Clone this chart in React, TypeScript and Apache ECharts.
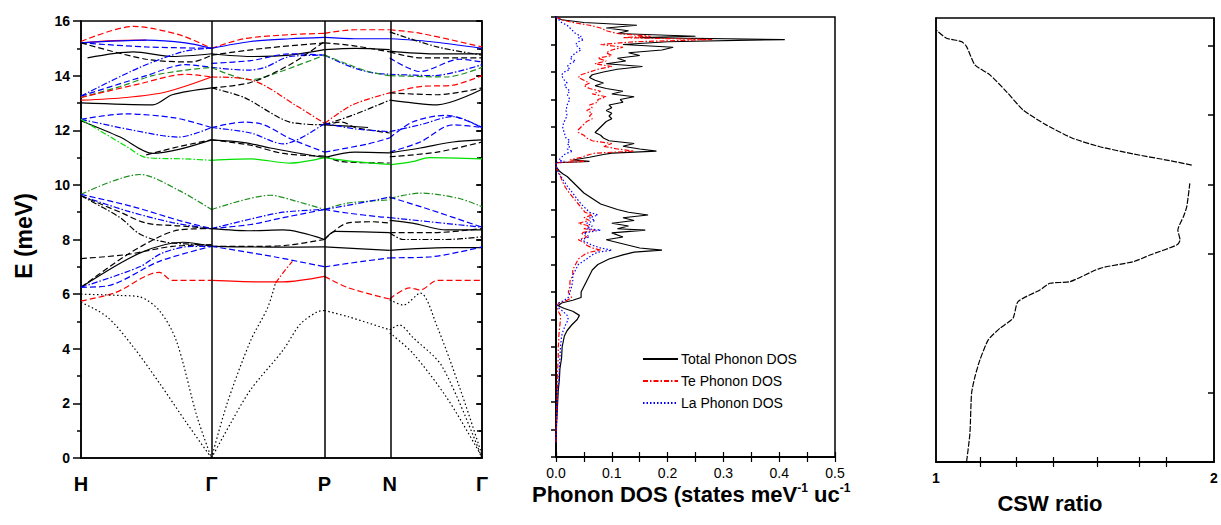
import React, { useEffect, useRef } from "react";
import * as echarts from "echarts";

// ---------- Left panel: dispersion along H-Γ-P-N-Γ ----------
const kPoints = [0, 1, 1.866, 2.366, 3.073];
const kLabels = ["H", "Γ", "P", "N", "Γ"];
const energyTicks = [0, 2, 4, 6, 8, 10, 12, 14, 16];

// [k, E(meV)] for bands on H→Γ
const bandsHG = [
  [[0, 15.25], [0.4, 15.8], [0.75, 15.5], [1, 15.0]],
  [[0, 15.2], [0.25, 15.28], [0.5, 15.3]],
  [[0, 15.2], [0.5, 15.3], [0.8, 15.2], [1, 15.0]],
  [[0, 15.2], [0.5, 15.05], [1, 15.0]],
  [[0, 15.2], [0.5, 14.6], [0.85, 14.5], [1, 14.75]],
  [[0.05, 14.65], [0.4, 14.87], [0.7, 14.7], [1, 14.8]],
  [[0, 13.25], [0.45, 14.3], [0.8, 14.9], [1, 15.0]],
  [[0, 13.25], [0.5, 14.0], [0.8, 14.4], [1, 14.3]],
  [[0, 13.2], [0.3, 13.6], [0.55, 14.0], [0.8, 14.2], [1, 14.3]],
  [[0, 13.2], [0.45, 13.7], [0.8, 14.05], [1, 13.95]],
  [[0, 13.1], [0.35, 13.2], [0.65, 13.4], [1, 13.95]],
  [[0, 13.0], [0.55, 12.93], [0.7, 13.3], [1, 13.55]],
  [[0, 12.4], [0.34, 12.6], [0.72, 12.45], [1, 12.1]],
  [[0, 12.4], [0.4, 12.0], [0.75, 11.75], [1, 12.1]],
  [[0, 12.35], [0.3, 11.75], [0.55, 11.15], [0.75, 11.3], [1, 11.65]],
  [[0.5, 11.1], [0.75, 11.4], [1, 11.65]],
  [[0, 12.4], [0.35, 11.4], [0.5, 11.0], [0.8, 10.95], [1, 10.9]],
  [[0, 9.65], [0.45, 10.38], [0.75, 9.8], [1, 9.1]],
  [[0, 9.65], [0.4, 9.2], [0.75, 8.7], [1, 8.4]],
  [[0, 9.6], [0.35, 9.05], [0.7, 8.62], [1, 8.4]],
  [[0, 9.6], [0.3, 9.0], [0.5, 8.6], [0.75, 8.5], [1, 8.4]],
  [[0, 9.6], [0.3, 8.8], [0.45, 8.2], [0.65, 7.9], [1, 7.8]],
  [[0, 7.3], [0.35, 7.45], [0.7, 7.75], [1, 7.8]],
  [[0, 6.25], [0.45, 7.5], [0.78, 7.9], [1, 7.75]],
  [[0, 6.25], [0.34, 7.4], [0.6, 8.1], [0.75, 8.35], [1, 8.4]],
  [[0, 6.25], [0.2, 6.3], [0.6, 7.2], [1, 7.75]],
  [[0, 6.25], [0.45, 7.0], [0.62, 7.5], [0.85, 7.75], [1, 7.75]],
  [[0, 5.75], [0.26, 6.05], [0.6, 6.8], [0.7, 6.5], [1, 6.5]],
  [[0, 6.0], [0.3, 5.95], [0.45, 5.9], [0.6, 5.4], [0.73, 4.3], [0.89, 1.5], [1, 0]],
  [[0, 5.7], [0.2, 5.17], [0.4, 4.07], [0.6, 2.75], [0.81, 1.28], [1, 0]],
];
const kindsHG = ["rd", "rs", "bs", "bd", "kd", "ks", "bh", "bd", "dd", "rd", "rs", "ks", "bd", "bh", "ks", "kd", "gh", "dh", "bd", "bh", "kd", "kh", "kd", "ks", "kd", "bd", "bh", "rd", "ko", "ko"];

// Γ→P
const bandsGP = [
  [[1, 15.0], [1.25, 15.35], [1.6, 15.5], [1.866, 15.55]],
  [[1, 15.0], [1.3, 15.25], [1.6, 15.35], [1.866, 15.4]],
  [[1, 14.75], [1.4, 15.0], [1.866, 15.2]],
  [[1, 14.8], [1.3, 14.7], [1.6, 14.75], [1.866, 14.95]],
  [[1, 14.3], [1.28, 14.2], [1.41, 14.3], [1.6, 14.7], [1.866, 14.75]],
  [[1, 14.45], [1.3, 14.55], [1.6, 14.8], [1.866, 14.75]],
  [[1, 14.3], [1.3, 13.85], [1.5, 14.1], [1.866, 14.75]],
  [[1, 13.95], [1.3, 13.85], [1.65, 12.9], [1.866, 12.25]],
  [[1, 13.55], [1.25, 13.2], [1.6, 12.3], [1.866, 12.2]],
  [[1, 13.55], [1.3, 13.75], [1.6, 14.4], [1.866, 15.25]],
  [[1, 12.1], [1.25, 12.3], [1.4, 12.2], [1.6, 11.7], [1.866, 11.2]],
  [[1, 12.1], [1.3, 11.9], [1.55, 11.5], [1.866, 12.25]],
  [[1, 11.65], [1.25, 11.55], [1.45, 11.35], [1.866, 11.0]],
  [[1, 11.65], [1.3, 11.45], [1.55, 11.15], [1.866, 11.05]],
  [[1, 10.9], [1.3, 10.95], [1.6, 10.8], [1.866, 11.0]],
  [[1, 9.1], [1.25, 9.45], [1.45, 9.62], [1.65, 9.4], [1.866, 9.1]],
  [[1, 8.4], [1.3, 8.55], [1.55, 8.8], [1.866, 9.1]],
  [[1, 8.4], [1.3, 8.75], [1.55, 9.0], [1.866, 9.1]],
  [[1, 8.4], [1.3, 8.32], [1.55, 8.35], [1.866, 8.0]],
  [[1, 7.75], [1.4, 7.75], [1.6, 7.8], [1.866, 8.0]],
  [[1, 7.75], [1.5, 7.72], [1.866, 7.73]],
  [[1, 7.75], [1.5, 7.35], [1.866, 7.0]],
  [[1, 6.5], [1.35, 6.45], [1.55, 6.45], [1.866, 6.65]],
  [[1.49, 6.4], [1.56, 6.85], [1.62, 7.2]],
  [[1, 0], [1.12, 2.0], [1.3, 4.3], [1.43, 5.5], [1.49, 6.4]],
  [[1, 0], [1.15, 1.3], [1.3, 2.5], [1.55, 3.96], [1.68, 4.9], [1.81, 5.35], [1.866, 5.4]],
];
const kindsGP = ["rd", "bs", "kd", "ks", "bh", "bd", "dd", "rh", "kh", "kd", "bd", "bh", "ks", "kd", "gs", "dh", "bd", "bh", "ks", "kd", "ks", "bd", "rs", "rh", "ko", "ko"];

// P→N
const bandsPN = [
  [[1.866, 15.55], [2.1, 15.68], [2.366, 15.68]],
  [[1.866, 15.4], [2.1, 15.35], [2.366, 15.35]],
  [[1.866, 15.2], [2.08, 15.1], [2.366, 14.87]],
  [[1.866, 14.95], [2.1, 15.0], [2.366, 14.95]],
  [[1.866, 14.75], [2.08, 14.3], [2.24, 14.1], [2.366, 14.05]],
  [[1.866, 14.75], [2.0, 14.5], [2.2, 14.15], [2.366, 14.0]],
  [[1.866, 12.25], [2.08, 12.93], [2.366, 13.37]],
  [[1.866, 12.2], [2.08, 12.55], [2.366, 13.1]],
  [[1.866, 12.2], [2.05, 12.15], [2.2, 12.1]],
  [[1.866, 12.2], [2.0, 12.3], [2.1, 12.1], [2.366, 11.9]],
  [[1.866, 11.2], [2.2, 11.5], [2.366, 11.72]],
  [[1.866, 12.25], [2.1, 12.05], [2.366, 11.95]],
  [[1.866, 11.0], [2.1, 11.2], [2.366, 11.17]],
  [[1.866, 11.05], [2.0, 10.85], [2.366, 10.8]],
  [[1.866, 11.0], [2.1, 10.85], [2.366, 10.75]],
  [[1.866, 9.1], [2.04, 9.33], [2.366, 9.45]],
  [[1.866, 9.1], [2.1, 9.3], [2.366, 9.55]],
  [[1.866, 9.1], [2.04, 8.97], [2.29, 8.83], [2.366, 8.8]],
  [[1.866, 8.0], [2.04, 8.6], [2.24, 8.65], [2.366, 8.6]],
  [[1.866, 8.0], [1.95, 8.3], [2.366, 8.25]],
  [[1.866, 7.73], [2.366, 7.6]],
  [[1.866, 7.0], [2.16, 7.2], [2.366, 7.33]],
  [[1.866, 6.65], [2.05, 6.23], [2.366, 5.82]],
  [[1.866, 5.4], [2.05, 5.17], [2.366, 4.69]],
];
const kindsPN = ["rd", "bs", "kd", "ks", "bh", "dd", "rh", "kh", "ks", "kd", "bd", "bh", "ks", "kd", "gs", "dh", "bh", "bd", "kd", "ks", "ks", "bd", "rd", "ko"];

// N→Γ
const bandsNG = [
  [[2.366, 15.68], [2.6, 15.55], [3.073, 15.05]],
  [[2.366, 15.35], [2.67, 15.25], [3.073, 15.0]],
  [[2.366, 14.9], [2.7, 14.8], [3.073, 14.8]],
  [[2.366, 14.87], [2.6, 14.65], [3.073, 14.65]],
  [[2.366, 15.6], [2.73, 15.05], [3.073, 14.75]],
  [[2.366, 14.65], [2.6, 14.15], [2.9, 14.6], [3.073, 14.5]],
  [[2.366, 14.05], [2.7, 14.0], [3.073, 14.4]],
  [[2.366, 14.0], [2.8, 13.95], [3.073, 14.3]],
  [[2.366, 13.37], [2.6, 13.6], [2.85, 13.65], [3.073, 14.0]],
  [[2.366, 13.1], [2.54, 13.0], [2.73, 12.93], [3.073, 13.5]],
  [[2.366, 13.37], [2.73, 13.3], [3.073, 13.55]],
  [[2.366, 11.72], [2.54, 12.3], [2.8, 12.55], [3.073, 12.1]],
  [[2.366, 11.95], [2.6, 12.2], [2.85, 12.5], [3.073, 12.1]],
  [[2.366, 11.2], [2.6, 11.57], [2.85, 12.2], [3.073, 12.1]],
  [[2.366, 11.17], [2.6, 11.35], [2.85, 11.57], [3.073, 11.65]],
  [[2.366, 11.03], [2.73, 11.2], [3.073, 11.57]],
  [[2.366, 10.73], [2.54, 10.85], [2.67, 11.0], [3.073, 10.95]],
  [[2.366, 9.5], [2.6, 9.7], [2.9, 9.5], [3.073, 9.2]],
  [[2.366, 9.55], [2.67, 9.1], [3.073, 8.45]],
  [[2.366, 8.8], [2.67, 8.65], [3.073, 8.45]],
  [[2.366, 8.7], [2.54, 8.6], [2.8, 8.35], [3.073, 8.35]],
  [[2.366, 8.25], [2.7, 8.25], [3.073, 8.4]],
  [[2.366, 8.25], [2.47, 8.0], [2.8, 8.0], [3.073, 8.1]],
  [[2.366, 7.6], [2.8, 7.7], [3.073, 7.7]],
  [[2.366, 7.33], [2.67, 7.36], [3.073, 7.73]],
  [[2.366, 5.82], [2.52, 6.23], [2.6, 6.15], [2.73, 6.5], [3.073, 6.5]],
  [[2.366, 5.79], [2.47, 5.6], [2.6, 6.04], [2.73, 4.8], [2.9, 2.6], [3.06, 0.3], [3.073, 0]],
  [[2.366, 4.69], [2.44, 4.87], [2.54, 4.43], [2.77, 3.33], [3.073, 0]],
  [[2.366, 4.58], [2.54, 3.85], [2.8, 2.23], [3.03, 0.4], [3.073, 0]],
];
const kindsNG = ["rd", "bs", "ks", "kd", "kh", "bd", "bh", "dd", "rd", "ks", "kd", "bd", "bh", "bd", "ks", "kd", "gs", "dh", "bd", "bh", "ks", "kd", "kh", "ks", "bd", "rd", "ko", "ko", "ko"];

// ---------- Middle panel: phonon DOS ----------
const dosEnergy = [16.0, 15.9, 15.8, 15.7, 15.6, 15.5, 15.4, 15.3, 15.25, 15.18, 15.1, 15.0, 14.9, 14.8, 14.7, 14.6, 14.5, 14.4, 14.3, 14.2, 14.1, 14.0, 13.9, 13.8, 13.7, 13.6, 13.5, 13.4, 13.3, 13.2, 13.1, 13.0, 12.9, 12.8, 12.7, 12.6, 12.5, 12.4, 12.3, 12.2, 12.1, 12.0, 11.9, 11.8, 11.7, 11.6, 11.5, 11.4, 11.3, 11.2, 11.12, 11.05, 11.0, 10.9, 10.8, 10.75, 10.7, 10.6, 10.5, 10.4, 10.3, 10.2, 10.0, 9.8, 9.6, 9.4, 9.2, 9.0, 8.9, 8.8, 8.7, 8.6, 8.5, 8.4, 8.3, 8.25, 8.15, 8.0, 7.9, 7.8, 7.7, 7.6, 7.52, 7.45, 7.35, 7.2, 7.0, 6.8, 6.6, 6.4, 6.2, 6.0, 5.8, 5.7, 5.6, 5.5, 5.4, 5.3, 5.15, 5.0, 4.8, 4.6, 4.4, 4.2, 4.0, 3.6, 3.2, 2.8, 2.4, 2.0, 1.6, 1.2, 0.8, 0.5];
const dosTotal = [0, 0.01, 0.05, 0.145, 0.09, 0.13, 0.11, 0.25, 0.15, 0.41, 0.2, 0.12, 0.21, 0.19, 0.13, 0.15, 0.11, 0.125, 0.09, 0.155, 0.11, 0.085, 0.065, 0.06, 0.07, 0.085, 0.07, 0.09, 0.12, 0.1, 0.14, 0.115, 0.12, 0.095, 0.1, 0.09, 0.1, 0.095, 0.1, 0.09, 0.085, 0.08, 0.075, 0.07, 0.08, 0.085, 0.095, 0.14, 0.12, 0.15, 0.18, 0.1, 0.085, 0.06, 0.03, 0.06, 0, 0, 0.002, 0.006, 0.012, 0.02, 0.03, 0.04, 0.05, 0.065, 0.08, 0.11, 0.13, 0.165, 0.12, 0.14, 0.1, 0.13, 0.11, 0.16, 0.1, 0.12, 0.09, 0.11, 0.13, 0.15, 0.19, 0.14, 0.12, 0.095, 0.075, 0.065, 0.06, 0.055, 0.05, 0.045, 0.045, 0.03, 0.01, 0.004, 0.015, 0.03, 0.042, 0.038, 0.028, 0.02, 0.015, 0.013, 0.011, 0.01, 0.007, 0.006, 0.004, 0.003, 0.002, 0.001, 0.0005, 0];
const dosTe = [0, 0.01, 0.03, 0.06, 0.08, 0.09, 0.11, 0.17, 0.12, 0.28, 0.14, 0.08, 0.12, 0.1, 0.09, 0.1, 0.075, 0.09, 0.07, 0.1, 0.075, 0.06, 0.045, 0.04, 0.05, 0.06, 0.05, 0.06, 0.08, 0.065, 0.09, 0.075, 0.075, 0.06, 0.065, 0.055, 0.065, 0.06, 0.065, 0.055, 0.05, 0.045, 0.04, 0.04, 0.05, 0.055, 0.065, 0.1, 0.085, 0.11, 0.14, 0.07, 0.06, 0.045, 0.025, 0.055, 0, 0, 0.001, 0.003, 0.005, 0.008, 0.012, 0.017, 0.024, 0.032, 0.04, 0.048, 0.052, 0.065, 0.05, 0.06, 0.04, 0.06, 0.05, 0.07, 0.045, 0.055, 0.04, 0.05, 0.055, 0.065, 0.08, 0.06, 0.05, 0.04, 0.035, 0.03, 0.03, 0.025, 0.025, 0.022, 0.028, 0.02, 0.005, 0.002, 0.003, 0.004, 0.008, 0.008, 0.007, 0.006, 0.005, 0.005, 0.004, 0.004, 0.003, 0.003, 0.002, 0.002, 0.001, 0.0005, 0, 0];
const dosLa = [0, 0.005, 0.01, 0.02, 0.025, 0.03, 0.035, 0.045, 0.04, 0.05, 0.04, 0.035, 0.04, 0.045, 0.035, 0.03, 0.025, 0.035, 0.025, 0.02, 0.025, 0.015, 0.01, 0.012, 0.015, 0.02, 0.015, 0.02, 0.025, 0.02, 0.022, 0.025, 0.022, 0.02, 0.019, 0.018, 0.019, 0.02, 0.017, 0.015, 0.013, 0.012, 0.013, 0.015, 0.016, 0.018, 0.025, 0.02, 0.025, 0.02, 0.03, 0.02, 0.015, 0.01, 0.005, 0.015, 0, 0, 0.001, 0.003, 0.006, 0.009, 0.015, 0.022, 0.03, 0.037, 0.045, 0.055, 0.06, 0.075, 0.06, 0.07, 0.055, 0.065, 0.055, 0.08, 0.05, 0.06, 0.045, 0.055, 0.065, 0.08, 0.1, 0.075, 0.065, 0.055, 0.04, 0.035, 0.03, 0.03, 0.028, 0.025, 0.022, 0.015, 0.005, 0.002, 0.006, 0.012, 0.02, 0.022, 0.017, 0.013, 0.01, 0.009, 0.008, 0.007, 0.006, 0.005, 0.003, 0.002, 0.002, 0.001, 0, 0];
const dosNames = ["Total Phonon DOS", "Te Phonon DOS", "La Phonon DOS"];
const dosTicks = [0, 0.1, 0.2, 0.3, 0.4, 0.5];

// ---------- Right panel: CSW ratio ----------
const cswLowE = [0.01, 1.03, 2.48, 3.07, 3.68, 4.4, 4.82, 5.18, 5.78, 6.2, 6.44, 6.5, 6.98, 7.22, 7.46, 7.82, 8.0, 8.36, 8.84, 9.2, 10.04];
const cswLowRatio = [1.11, 1.122, 1.128, 1.14, 1.158, 1.188, 1.23, 1.277, 1.295, 1.374, 1.41, 1.482, 1.59, 1.71, 1.77, 1.866, 1.878, 1.87, 1.89, 1.902, 1.913];
const cswHighE = [10.7, 10.88, 11.1, 11.36, 11.66, 12.14, 12.68, 13.34, 13.95, 14.31, 14.97, 15.15, 15.27, 15.57];
const cswHighRatio = [1.92, 1.83, 1.71, 1.59, 1.493, 1.398, 1.314, 1.254, 1.194, 1.14, 1.11, 1.092, 1.038, 1.0];
const cswTickRatios = [1.16, 1.29, 1.42, 1.58, 1.73, 1.83];
const cswTickE = [2.5, 7.5, 10, 12.5, 15];

const COLORS: Record<string, string> = { k: "#000000", r: "#ff0000", b: "#0000ff", g: "#00e000", d: "#1f8f1f" };
const DASHES: Record<string, any> = { s: "solid", d: [6, 3], h: [6, 2, 1.5, 2], o: [1.5, 2.5] };
const FONT = "'Liberation Sans', Arial, sans-serif";

function bandSeries(bands: number[][][], kinds: string[]) {
  return bands.map((pts, i) => ({
    type: "line",
    xAxisIndex: 0,
    yAxisIndex: 0,
    data: pts,
    symbol: "none",
    smooth: 0.3,
    silent: true,
    lineStyle: { color: COLORS[kinds[i][0]], width: 1.2, type: DASHES[kinds[i][1]] },
    z: 3,
  }));
}

export default function App() {
  const ref = useRef<HTMLDivElement>(null);
  useEffect(() => {
    if (!ref.current) return;
    const chart = echarts.init(ref.current, undefined, { renderer: "svg" });
    const axisLine = { show: true, lineStyle: { color: "#000", width: 1.5 } };
    const nearestLabel = (v: number) => {
      let best = 0;
      for (let i = 1; i < kPoints.length; i++) if (Math.abs(kPoints[i] - v) < Math.abs(kPoints[best] - v)) best = i;
      return kLabels[best];
    };
    const option: any = {
      animation: false,
      textStyle: { fontFamily: FONT },
      grid: [
        { left: 81, top: 21, width: 401, height: 437, show: true, borderColor: "#000", borderWidth: 1.5, backgroundColor: "transparent" },
        { left: 556, top: 17, width: 279, height: 440, show: true, borderColor: "#000", borderWidth: 1.5, backgroundColor: "transparent" },
        { left: 936, top: 18, width: 278, height: 444, show: true, borderColor: "#000", borderWidth: 1.5, backgroundColor: "transparent" },
      ],
      xAxis: [
        {
          gridIndex: 0, type: "value", min: 0, max: kPoints[kPoints.length - 1],
          axisLine, axisTick: { show: false }, splitLine: { show: false },
          axisLabel: { customValues: kPoints, formatter: (v: number) => nearestLabel(v), fontSize: 20, fontWeight: "bold", color: "#000", margin: 16, fontFamily: FONT },
        },
        {
          gridIndex: 1, type: "value", min: 0, max: 0.5, interval: 0.05,
          axisLine, splitLine: { show: false },
          axisTick: { inside: true, length: 5, lineStyle: { color: "#000", width: 1.2 } },
          axisLabel: { customValues: dosTicks, formatter: (v: number) => v.toFixed(1), fontSize: 14, color: "#000", margin: 9, fontFamily: FONT },
        },
        {
          gridIndex: 1, type: "value", position: "top", min: 0, max: 0.5, interval: 0.05,
          axisLine, splitLine: { show: false }, axisLabel: { show: false },
          axisTick: { inside: true, length: 5, lineStyle: { color: "#000", width: 1.2 } },
        },
        {
          gridIndex: 2, type: "value", min: 1, max: 2,
          axisLine, splitLine: { show: false },
          axisTick: { customValues: cswTickRatios, inside: true, length: 5, lineStyle: { color: "#000", width: 1.2 } },
          axisLabel: { customValues: [1, 2], formatter: (v: number) => String(Math.round(v)), fontSize: 14, fontWeight: "bold", color: "#000", margin: 9, fontFamily: FONT },
        },
        {
          gridIndex: 2, type: "value", position: "top", min: 1, max: 2,
          axisLine, splitLine: { show: false }, axisLabel: { show: false },
          axisTick: { customValues: cswTickRatios, inside: true, length: 5, lineStyle: { color: "#000", width: 1.2 } },
        },
      ],
      yAxis: [
        {
          gridIndex: 0, type: "value", min: 0, max: 16, interval: 2,
          axisLine, splitLine: { show: false },
          axisTick: { inside: false, length: 8, lineStyle: { color: "#000", width: 1.5 } },
          minorTick: { show: true, splitNumber: 2, length: 4, lineStyle: { color: "#000", width: 1.5 } },
          axisLabel: { customValues: energyTicks, fontSize: 14, fontWeight: "bold", color: "#000", margin: 11, fontFamily: FONT },
        },
        {
          gridIndex: 0, type: "value", min: 0, max: 16, interval: 2,
          axisLine: { show: false }, splitLine: { show: false }, axisLabel: { show: false },
          axisTick: { inside: true, length: 6, lineStyle: { color: "#000", width: 1.5 } },
          minorTick: { show: true, splitNumber: 2, length: 3, lineStyle: { color: "#000", width: 1.5 } },
        },
        {
          gridIndex: 0, type: "value", position: "right", min: 0, max: 16, interval: 1,
          axisLine, splitLine: { show: false }, axisLabel: { show: false },
          axisTick: { inside: true, length: 5, lineStyle: { color: "#000", width: 1.5 } },
        },
        {
          gridIndex: 1, type: "value", min: 0, max: 16, interval: 1,
          axisLine, splitLine: { show: false }, axisLabel: { show: false }, axisTick: { show: false },
        },
        {
          gridIndex: 1, type: "value", position: "right", min: 0, max: 16, interval: 1,
          axisLine, splitLine: { show: false }, axisLabel: { show: false },
          axisTick: { inside: true, length: 5, lineStyle: { color: "#000", width: 1.5 } },
        },
        {
          gridIndex: 2, type: "value", min: 0, max: 16, interval: 2,
          axisLine, splitLine: { show: false }, axisLabel: { show: false }, axisTick: { show: false },
        },
        {
          gridIndex: 2, type: "value", position: "right", min: 0, max: 16,
          axisLine, splitLine: { show: false }, axisLabel: { show: false },
          axisTick: { customValues: cswTickE, inside: true, length: 6, lineStyle: { color: "#000", width: 1.5 } },
        },
      ],
      legend: {
        data: dosNames,
        orient: "vertical",
        left: 642,
        top: 352,
        padding: 0,
        itemWidth: 35,
        itemHeight: 10,
        itemGap: 8,
        itemStyle: { color: "transparent", borderWidth: 0, opacity: 0 },
        textStyle: { fontSize: 14, color: "#000", fontFamily: FONT, padding: [0, 0, 0, -2] },
      },
      graphic: [
        { type: "text", x: 24, y: 236, rotation: Math.PI / 2, style: { text: "E (meV)", font: `bold 23px ${FONT}`, fill: "#000", textAlign: "center", textVerticalAlign: "middle" } },
        {
          type: "text", x: 532, y: 494,
          style: {
            text: "{a|Phonon DOS (states meV}{s|-1}{a| uc}{s|-1}",
            textVerticalAlign: "middle",
            rich: {
              a: { fontSize: 22, fontWeight: "bold", fontFamily: FONT, fill: "#000", color: "#000" },
              s: { fontSize: 12, fontWeight: "bold", fontFamily: FONT, fill: "#000", color: "#000", padding: [0, 0, 12, 0] },
            },
          },
        },
        { type: "text", x: 1050, y: 503, style: { text: "CSW ratio", font: `bold 22px ${FONT}`, fill: "#000", textAlign: "center", textVerticalAlign: "middle" } },
      ],
      series: [
        ...bandSeries(bandsHG, kindsHG),
        ...bandSeries(bandsGP, kindsGP),
        ...bandSeries(bandsPN, kindsPN),
        ...bandSeries(bandsNG, kindsNG),
        {
          type: "line", xAxisIndex: 0, yAxisIndex: 0, data: [], symbol: "none", silent: true,
          markLine: {
            symbol: ["none", "none"], silent: true, label: { show: false },
            lineStyle: { color: "#000", width: 1.5, type: "solid" },
            data: kPoints.slice(1, 4).map((k) => ({ xAxis: k })),
          },
        },
        {
          name: dosNames[0], type: "line", xAxisIndex: 1, yAxisIndex: 3, symbol: "none", silent: true,
          data: dosEnergy.map((e, i) => [dosTotal[i], e]),
          lineStyle: { color: "#000", width: 1.2, type: "solid" }, itemStyle: { color: "#000" }, z: 3,
        },
        {
          name: dosNames[1], type: "line", xAxisIndex: 1, yAxisIndex: 3, symbol: "none", silent: true,
          data: dosEnergy.map((e, i) => [dosTe[i], e]),
          lineStyle: { color: "#ff0000", width: 1.2, type: [5, 2, 1.5, 2] }, itemStyle: { color: "#ff0000" }, z: 4,
        },
        {
          name: dosNames[2], type: "line", xAxisIndex: 1, yAxisIndex: 3, symbol: "none", silent: true,
          data: dosEnergy.map((e, i) => [dosLa[i], e]),
          lineStyle: { color: "#0000ff", width: 1.2, type: [1.5, 2] }, itemStyle: { color: "#0000ff" }, z: 5,
        },
        {
          type: "line", xAxisIndex: 3, yAxisIndex: 5, symbol: "none", silent: true, smooth: 0.2,
          data: cswLowE.map((e, i) => [cswLowRatio[i], e]),
          lineStyle: { color: "#000", width: 1.2, type: [6, 1.5] },
        },
        {
          type: "line", xAxisIndex: 3, yAxisIndex: 5, symbol: "none", silent: true, smooth: 0.2,
          data: cswHighE.map((e, i) => [cswHighRatio[i], e]),
          lineStyle: { color: "#000", width: 1.2, type: [6, 1.5] },
        },
      ],
    };
    chart.setOption(option);
    return () => chart.dispose();
  }, []);
  return <div ref={ref} style={{ position: "fixed", left: 0, top: 0, width: 1221, height: 525, background: "#fff" }} />;
}
